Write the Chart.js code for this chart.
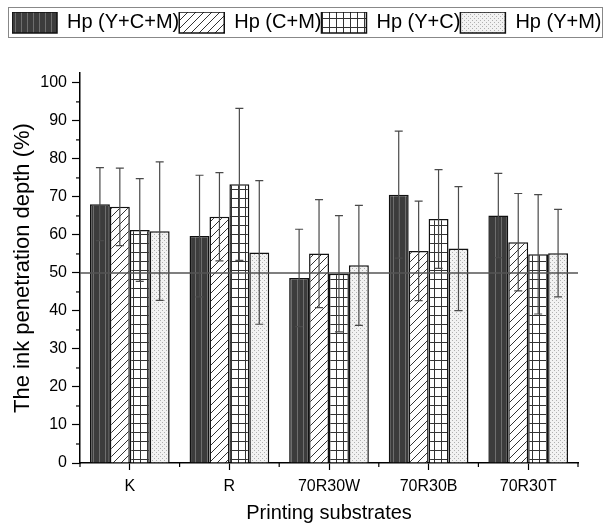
<!DOCTYPE html>
<html>
<head>
<meta charset="utf-8">
<script src="https://cdn.jsdelivr.net/npm/chart.js@4/dist/chart.umd.min.js"></script>
<style>
  html,body{margin:0;padding:0;background:#fff;}
  #wrap{width:605px;height:526px;}
</style>
</head>
<body>
<div id="wrap"><canvas id="c" width="605" height="526"></canvas></div>
<script>
const categories = ['K', 'R', '70R30W', '70R30B', '70R30T'];
const seriesNames = ['Hp (Y+C+M)', 'Hp (C+M)', 'Hp (Y+C)', 'Hp (Y+M)'];
const hpYCM = [68.1, 59.7, 48.7, 70.6, 65.1];
const hpCM  = [67.4, 64.8, 55.1, 55.8, 58.1];
const hpYC  = [61.3, 73.3, 49.8, 64.2, 54.9];
const hpYM  = [61.0, 55.4, 52.0, 56.4, 55.2];
const errYCM = [9.6, 16.0, 12.8, 16.7, 11.1];
const errCM  = [10.2, 11.6, 14.2, 13.1, 12.8];
const errYC  = [13.5, 20.0, 15.3, 13.0, 15.7];
const errYM  = [18.2, 18.9, 15.8, 16.3, 11.5];
const refValue = 50;
const yTicks = [0,10,20,30,40,50,60,70,80,90,100];
const yMax = 102.6;

const FONT = 'Liberation Sans, Arial, sans-serif';

function makePattern(kind){
  const c = document.createElement('canvas');
  const ctx = c.getContext('2d');
  if(kind === 'dark'){
    c.width = 6; c.height = 6;
    ctx.fillStyle = '#3c3c3c'; ctx.fillRect(0,0,6,6);
    ctx.strokeStyle = '#6e6e6e'; ctx.lineWidth = 1;
    ctx.beginPath(); ctx.moveTo(3.5,0); ctx.lineTo(3.5,6); ctx.stroke();
  } else if(kind === 'diag'){
    c.width = 8; c.height = 8;
    ctx.fillStyle = '#ffffff'; ctx.fillRect(0,0,8,8);
    ctx.strokeStyle = '#333'; ctx.lineWidth = 1;
    ctx.beginPath();
    ctx.moveTo(0,8); ctx.lineTo(8,0);
    ctx.moveTo(-1,1); ctx.lineTo(1,-1);
    ctx.moveTo(7,9); ctx.lineTo(9,7);
    ctx.stroke();
  } else if(kind === 'grid'){
    c.width = 7; c.height = 9;
    ctx.fillStyle = '#ffffff'; ctx.fillRect(0,0,7,9);
    ctx.strokeStyle = '#333'; ctx.lineWidth = 1;
    ctx.beginPath();
    ctx.moveTo(0.5,0); ctx.lineTo(0.5,9);
    ctx.moveTo(0,0.5); ctx.lineTo(7,0.5);
    ctx.stroke();
  } else {
    c.width = 4; c.height = 4;
    ctx.fillStyle = '#f2f2f2'; ctx.fillRect(0,0,4,4);
    ctx.fillStyle = '#b0b0b0';
    ctx.fillRect(0,0,1,1); ctx.fillRect(2,2,1,1);
  }
  return document.getElementById('c').getContext('2d').createPattern(c,'repeat');
}

const values = [hpYCM, hpCM, hpYC, hpYM];
const errors = [errYCM, errCM, errYC, errYM];
const patterns = [makePattern('dark'), makePattern('diag'), makePattern('grid'), makePattern('dots')];

const datasets = seriesNames.map((n,i)=>({
  label: n,
  data: values[i],
  errors: errors[i],
  backgroundColor: patterns[i],
  borderColor: '#111',
  borderWidth: 1.5,
  categoryPercentage: 0.8,
  barPercentage: 1.0
}));

const legendSpacer = {
  id: 'legendSpacer',
  beforeLayout(chart){
    const lg = chart.legend;
    if(lg && !lg._patched){
      const f = lg.fit;
      lg.fit = function(){ f.call(this); this.height = 61; };
      lg._patched = true;
    }
  }
};

const extras = {
  id: 'extras',
  afterDatasetsDraw(chart){
    const ctx = chart.ctx;
    const y = chart.scales.y;
    const ca = chart.chartArea;
    ctx.save();
    // reference line
    ctx.strokeStyle = '#555'; ctx.lineWidth = 1.5;
    const yr = y.getPixelForValue(refValue);
    ctx.beginPath(); ctx.moveTo(ca.left, yr); ctx.lineTo(ca.right, yr); ctx.stroke();
    // error bars
    chart.data.datasets.forEach((ds,di)=>{
      const meta = chart.getDatasetMeta(di);
      meta.data.forEach((el,j)=>{
        const v = ds.data[j], e = ds.errors[j];
        const yt = y.getPixelForValue(v+e), yb = y.getPixelForValue(v-e);
        const xc = el.x;
        ctx.strokeStyle = '#4a4a4a'; ctx.lineWidth = 1.2;
        ctx.beginPath();
        ctx.moveTo(xc, yt); ctx.lineTo(xc, yb);
        ctx.moveTo(xc-4, yt); ctx.lineTo(xc+4, yt);
        ctx.moveTo(xc-4, yb); ctx.lineTo(xc+4, yb);
        ctx.stroke();
      });
    });
    // minor ticks
    ctx.strokeStyle = '#000'; ctx.lineWidth = 1.2;
    for(let v=5; v<yMax; v+=10){
      const p = y.getPixelForValue(v);
      ctx.beginPath(); ctx.moveTo(ca.left-4, p); ctx.lineTo(ca.left, p); ctx.stroke();
    }
    for(let k=0; k<=categories.length; k++){
      const px = ca.left + (ca.right-ca.left)*k/categories.length;
      ctx.beginPath(); ctx.moveTo(px, ca.bottom); ctx.lineTo(px, ca.bottom+4); ctx.stroke();
    }
    // legend frame
    const lg = chart.legend;
    ctx.strokeStyle = '#888'; ctx.lineWidth = 1;
    ctx.strokeRect(lg.left-3.5, lg.top-4.5, chart.width-lg.left+1, 30);
    ctx.restore();
  }
};

new Chart(document.getElementById('c'), {
  type: 'bar',
  data: { labels: categories, datasets },
  options: {
    responsive: false,
    animation: false,
    devicePixelRatio: 1,
    layout: { padding: { left: 12, right: 0, top: 12, bottom: 0 } },
    plugins: {
      legend: {
        position: 'top',
        align: 'start',
        labels: {
          boxWidth: 45, boxHeight: 21, padding: 0,
          color: '#000',
          font: { family: FONT, size: 20 }
        }
      },
      tooltip: { enabled: false }
    },
    scales: {
      x: {
        afterFit(a){ a.height = 63; },
        grid: { display: true, drawOnChartArea: false, offset: false, color: '#000', tickLength: 7, tickWidth: 1.2 },
        border: { color: '#000', width: 1.5 },
        ticks: { color: '#000', font: { family: FONT, size: 16 }, padding: 7, maxRotation: 0 },
        title: { display: true, text: 'Printing substrates', color: '#000', font: { family: FONT, size: 20 }, padding: { top: 0, bottom: 1 } }
      },
      y: {
        min: 0, max: yMax,
        afterFit(a){ a.width = 68; },
        afterBuildTicks(axis){ axis.ticks = yTicks.map(v=>({value:v})); },
        grid: { display: true, drawOnChartArea: false, color: '#000', tickLength: 8, tickWidth: 1.2 },
        border: { color: '#000', width: 1.5 },
        ticks: { color: '#000', font: { family: FONT, size: 16 }, padding: 5 },
        title: { display: true, text: 'The ink penetration depth (%)', color: '#000', font: { family: FONT, size: 22 }, padding: { top: -2, bottom: 0 } }
      },
      yR: {
        position: 'right',
        display: true,
        afterFit(a){ a.width = 27; },
        grid: { display: false },
        border: { display: false },
        ticks: { display: false }
      }
    }
  },
  plugins: [legendSpacer, extras]
});
</script>
</body>
</html>
